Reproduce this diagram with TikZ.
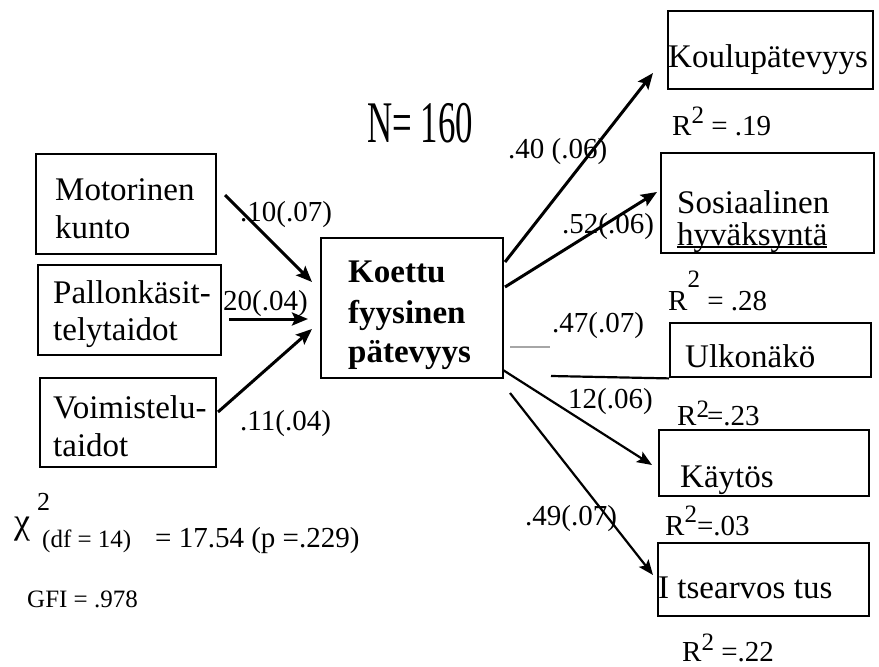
\documentclass[tikz,border=0pt]{standalone}
\usepackage{fontspec}
\usepackage{graphicx}
\setmainfont{Liberation Serif}
\usetikzlibrary{arrows.meta}
\begin{document}
\begin{tikzpicture}[x=1pt,y=-1pt,
 box/.style={draw, line width=2.4pt, inner sep=0pt, anchor=north west},
 txt/.style={anchor=base west, inner sep=0pt, font=\fontsize{33}{38}\selectfont},
 btxt/.style={anchor=base west, inner sep=0pt, font=\fontsize{33}{40}\selectfont\bfseries},
 lab/.style={anchor=base west, inner sep=0pt, font=\fontsize{29}{30}\selectfont},
 small/.style={anchor=base west, inner sep=0pt, font=\fontsize{25}{26}\selectfont},
 arr/.style={line width=3pt, -{Stealth[length=16pt,width=13pt,inset=3pt]}},
 arrthin/.style={line width=2.2pt, -{Stealth[length=15pt,width=12pt,inset=3pt]}},
]
\newcommand{\rsq}[1]{R\raisebox{#1pt}{\fontsize{25}{25}\selectfont 2}}
\fill[white] (0,0) rectangle (879,667);
\useasboundingbox (0,0) rectangle (879,667);

% boxes
\node[box, minimum width=180pt, minimum height=100pt] (mot) at (35,153) {};
\node[box, minimum width=183pt, minimum height=90pt] (pal) at (37,264) {};
\node[box, minimum width=176pt, minimum height=89pt] (voi) at (39,377) {};
\node[box, minimum width=182pt, minimum height=140pt] (koe) at (320,237) {};
\node[box, minimum width=205pt, minimum height=78pt] (kou) at (667,10) {};
\node[box, minimum width=213pt, minimum height=100pt] (sos) at (660,152) {};
\node[box, minimum width=201pt, minimum height=54pt] (ulk) at (669,322) {};
\node[box, minimum width=210pt, minimum height=66pt] (kay) at (658,429) {};
\node[box, minimum width=211pt, minimum height=73pt] (its) at (657,542) {};

% box texts
\node[txt] (t1a) at (55,200) {Motorinen};
\node[txt] (t1b) at (55,238) {kunto};
\node[txt] (t2a) at (53,303) {Pallonkäsit-};
\node[txt] (t2b) at (53,340) {telytaidot};
\node[txt] (t3a) at (53,418) {Voimistelu-};
\node[txt] (t3b) at (53,456) {taidot};
\node[btxt] (t4a) at (348,282) {Koettu};
\node[btxt] (t4b) at (348,323) {fyysinen};
\node[btxt] (t4c) at (348,362) {pätevyys};
\node[txt] (t5) at (668,67) {Koulupätevyys};
\node[txt] (t6a) at (677,213) {Sosiaalinen};
\node[txt] (t6b) at (677,245) {hyväksyntä};
\draw[line width=1.6pt] (t6b.base west) ++(0,2) -- ++(150,0);
\node[txt] (t7) at (685,367) {Ulkonäkö};
\node[txt] (t8) at (680,487) {Käytös};
\node[txt] (t9) at (658,598) {I tsearvos tus};

% N
\node[anchor=base west, inner sep=0pt] (n) at (367,142) {\fontsize{59}{60}\selectfont\scalebox{0.59}[1]{N= 160}};

% connector end points
\coordinate (a1s) at (225,195); \coordinate (a1e) at (312,282);
\coordinate (a2s) at (229,319); \coordinate (a2e) at (308,319);
\coordinate (a3s) at (218,412); \coordinate (a3e) at (312,329);
\coordinate (b1s) at (505,262); \coordinate (b1e) at (653,73);
\coordinate (b2s) at (505,287); \coordinate (b2e) at (657,192);
\coordinate (b3s) at (503,370); \coordinate (b3e) at (652,465);
\coordinate (b4s) at (510,393); \coordinate (b4e) at (653,575);
\coordinate (g1) at (510,347); \coordinate (g2) at (550,347);
\coordinate (u1) at (551,376);

\draw[arr] (a1s) -- (a1e);
\draw[arr] (a2s) -- (a2e);
\draw[arr] (a3s) -- (a3e);
\draw[arr] (b1s) -- (b1e);
\draw[arr] (b2s) -- (b2e);
\draw[arrthin] (b3s) -- (b3e);
\draw[arrthin] (b4s) -- (b4e);
\draw[line width=2.5pt, gray!70] (g1) -- (g2);
\draw[line width=2.2pt] (u1) -- (ulk.south west);

% path labels
\node[lab] (l1) at (240,221) {.10(.07)};
\node[lab] (l2) at (223,310) {20(.04)};
\node[lab] (l3) at (240,430) {.11(.04)};
\node[lab] (l4) at (508,158) {.40 (.06)};
\node[lab] (l5) at (562,233) {.52(.06)};
\node[lab] (l6) at (552,332) {.47(.07)};
\node[lab] (l7) at (568,408) {12(.06)};
\node[lab] (l8) at (525,525) {.49(.07)};

% R squared
\node[lab] (r1) at (672,135) {\rsq{12} = .19};
\node[lab] (r2) at (668,310) {\rsq{23} = .28};
\node[lab] (r3) at (677,425) {\rsq{8}\kern-2pt=.23};
\node[lab] (r4) at (665,535) {\rsq{13}=.03};
\node[lab] (r5) at (682,661) {\rsq{11} =.22};

% fit statistics
\node[anchor=base west, inner sep=0pt, font=\fontsize{26}{26}\selectfont] (c2) at (37,510) {2};
\node[anchor=base west, inner sep=0pt, font=\fontsize{36}{36}\selectfont] (chi) at (14,533) {χ};
\node[small] (df) at (42,547) {(df = 14)};
\node[lab] (chv) at (155,547) {= 17.54 (p =.229)};
\node[small] (gfi) at (27,607) {GFI = .978};
\end{tikzpicture}
\end{document}
